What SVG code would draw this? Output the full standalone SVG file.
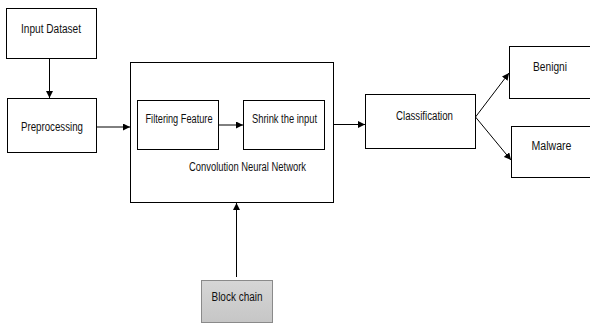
<svg xmlns="http://www.w3.org/2000/svg" width="590" height="323" viewBox="0 0 590 323">
<defs>
<marker id="ah" viewBox="0 0 10 10" refX="10" refY="5" markerWidth="7" markerHeight="7" markerUnits="userSpaceOnUse" orient="auto">
<path d="M0,0 L10,5 L0,10 z" fill="#000"/>
</marker>
<linearGradient id="gray" x1="0" y1="0" x2="0" y2="1">
<stop offset="0" stop-color="#d6d6d6"/>
<stop offset="1" stop-color="#c6c6c6"/>
</linearGradient>
<style>
.box{fill:#fff;stroke:#000;stroke-width:1}
.t{font-family:"Liberation Sans Narrow","Liberation Sans",Arial,sans-serif;font-size:12px;fill:#111;text-anchor:middle;dominant-baseline:central}
.c{stroke:#000;stroke-width:1;fill:none;marker-end:url(#ah)}
</style>
</defs>
<rect width="590" height="323" fill="#fff"/>
<g id="input-dataset">
<rect class="box" x="6.5" y="8.5" width="90" height="50"/>
<text class="t" x="51" y="29" textLength="60" lengthAdjust="spacingAndGlyphs">Input Dataset</text>
</g>
<g id="preprocessing">
<rect class="box" x="7.5" y="98.5" width="89" height="54"/>
<text class="t" x="52" y="127" textLength="62" lengthAdjust="spacingAndGlyphs">Preprocessing</text>
</g>
<g id="cnn">
<rect class="box" x="130.5" y="62.5" width="203" height="140"/>
<text class="t" x="247.5" y="166.5" textLength="117" lengthAdjust="spacingAndGlyphs">Convolution Neural Network</text>
</g>
<g id="filtering-feature">
<rect class="box" x="137.5" y="100.5" width="81" height="49"/>
<text class="t" x="179" y="119" textLength="67" lengthAdjust="spacingAndGlyphs">Filtering Feature</text>
</g>
<g id="shrink-input">
<rect class="box" x="243.5" y="100.5" width="81" height="49"/>
<text class="t" x="284.5" y="119" textLength="65" lengthAdjust="spacingAndGlyphs">Shrink the input</text>
</g>
<g id="classification">
<rect class="box" x="365.5" y="94.5" width="110" height="54"/>
<text class="t" x="424.5" y="116" textLength="57" lengthAdjust="spacingAndGlyphs">Classification</text>
</g>
<g id="benigni">
<rect class="box" x="509.5" y="46.5" width="90" height="52"/>
<text class="t" x="550" y="66.5" textLength="34" lengthAdjust="spacingAndGlyphs">Benigni</text>
</g>
<g id="malware">
<rect class="box" x="511.5" y="126.5" width="90" height="51"/>
<text class="t" x="551.5" y="146" textLength="40" lengthAdjust="spacingAndGlyphs">Malware</text>
</g>
<g id="block-chain">
<rect x="201.5" y="280.5" width="71" height="42" fill="url(#gray)" stroke="#8a8a8a" stroke-width="1"/>
<text class="t" x="237" y="296.5" textLength="51" lengthAdjust="spacingAndGlyphs">Block chain</text>
</g>
<g id="connectors">
<line class="c" x1="49.5" y1="58.5" x2="49.5" y2="98"/>
<line class="c" x1="96.5" y1="127" x2="130" y2="127"/>
<line class="c" x1="218.5" y1="125" x2="243" y2="125"/>
<line class="c" x1="333.5" y1="124.5" x2="365" y2="124.5"/>
<line class="c" x1="475.5" y1="117" x2="509" y2="73"/>
<line class="c" x1="475.5" y1="117" x2="511" y2="160"/>
<line class="c" x1="236.5" y1="277" x2="236.5" y2="203"/>
</g>
</svg>
